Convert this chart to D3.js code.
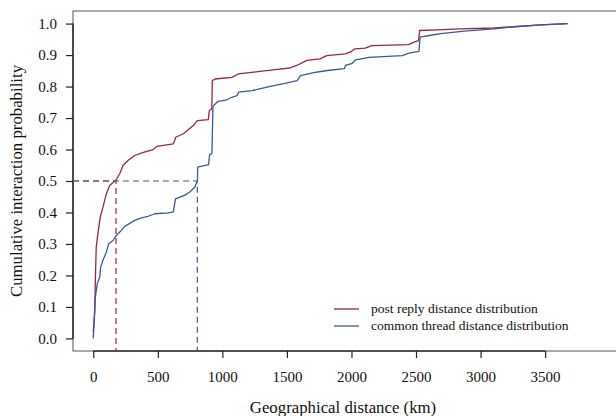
<!DOCTYPE html>
<html>
<head>
<meta charset="utf-8">
<script src="https://cdn.jsdelivr.net/npm/d3@7"></script>
<style>
body{margin:0;background:#fff;}
text{font-family:"Liberation Serif","Times New Roman",serif;fill:#111;}
</style>
</head>
<body>
<svg id="chart" width="616" height="416"></svg>
<script>
//ECDF of distances (km, cumulative probability)
var replyKm   = [0, 11, 16, 23, 36, 54, 75, 101, 127, 178, 205, 230, 269, 321, 388, 465, 492, 620, 639, 698, 775, 806, 891, 899, 918, 922, 943, 1073, 1124, 1292, 1408, 1524, 1576, 1654, 1757, 1809, 1951, 1990, 2028, 2106, 2158, 2442, 2494, 2520, 2528, 2662, 2843, 3102, 3257, 3465, 3672];
var replyProb = [0.02, 0.08, 0.184, 0.29, 0.333, 0.385, 0.417, 0.459, 0.486, 0.504, 0.523, 0.549, 0.565, 0.581, 0.591, 0.6, 0.61, 0.618, 0.639, 0.65, 0.676, 0.692, 0.695, 0.724, 0.729, 0.819, 0.824, 0.829, 0.84, 0.848, 0.854, 0.859, 0.867, 0.883, 0.888, 0.898, 0.904, 0.909, 0.92, 0.922, 0.93, 0.933, 0.943, 0.946, 0.978, 0.98, 0.983, 0.986, 0.99, 0.996, 1.0];
var threadKm   = [0, 16, 31, 50, 57, 75, 101, 120, 153, 178, 217, 244, 321, 373, 425, 477, 580, 621, 626, 637, 710, 748, 787, 807, 809, 893, 901, 919, 927, 958, 970, 1035, 1074, 1113, 1126, 1230, 1346, 1475, 1579, 1605, 1708, 1812, 1946, 1954, 2006, 2032, 2135, 2394, 2446, 2523, 2531, 2614, 2692, 2873, 3106, 3261, 3468, 3675];
var threadProb = [0, 0.131, 0.174, 0.195, 0.226, 0.248, 0.274, 0.301, 0.311, 0.327, 0.343, 0.356, 0.375, 0.383, 0.388, 0.396, 0.399, 0.402, 0.417, 0.443, 0.455, 0.465, 0.481, 0.502, 0.544, 0.552, 0.584, 0.587, 0.737, 0.75, 0.753, 0.758, 0.766, 0.771, 0.782, 0.787, 0.798, 0.809, 0.819, 0.835, 0.844, 0.851, 0.857, 0.867, 0.874, 0.885, 0.893, 0.898, 0.906, 0.912, 0.957, 0.963, 0.968, 0.976, 0.983, 0.99, 0.996, 1.0];
//medians (where each curve crosses 0.5)
var replyMedian = 176;
var threadMedian = 806;
var xTicks = [0, 500, 1000, 1500, 2000, 2500, 3000, 3500];
var yTicks = [0, 0.1, 0.2, 0.3, 0.4, 0.5, 0.6, 0.7, 0.8, 0.9, 1.0];
var seriesNames = ["post reply distance distribution", "common thread distance distribution"];

var cfg = {
    left: 73,
    right: 620,
    top: 11,
    bottom: 351,
    red: "#982645",
    blue: "#3b5998",
    tickFont: "15px",
    titleFont: "16.8px",
    legendFont: "13.5px"
};

var svg = d3.select("#chart");

//R style 4% padding on each side
var x = d3.scaleLinear().domain([-157, 4080]).range([cfg.left, cfg.right]);
var y = d3.scaleLinear().domain([-0.04, 1.04]).range([cfg.bottom, cfg.top]);

//box (right side runs off the page)
svg.append("rect")
    .attr("x", cfg.left)
    .attr("y", cfg.top)
    .attr("width", cfg.right - cfg.left)
    .attr("height", cfg.bottom - cfg.top)
    .style("fill", "none")
    .style("stroke", "#555")
    .style("stroke-width", "1px");

//axes
var xAxis = svg.append("g")
    .attr("transform", "translate(0," + cfg.bottom + ")")
    .call(d3.axisBottom(x).tickValues(xTicks).tickSize(7).tickPadding(13).tickFormat(d3.format("d")));
var yAxis = svg.append("g")
    .attr("transform", "translate(" + cfg.left + ",0)")
    .call(d3.axisLeft(y).tickValues(yTicks).tickSize(7).tickPadding(9).tickFormat(d3.format(".1f")));
[xAxis, yAxis].forEach(function(a){
    a.select(".domain").style("stroke", "#333").style("stroke-width", "1.6px");
    a.selectAll(".tick line").style("stroke", "#222").style("stroke-width", "1.2px");
    a.selectAll(".tick text")
        .style("font-family", "'Liberation Serif', serif")
        .style("font-size", cfg.tickFont)
        .attr("fill", "#111");
});
//r draws the axis line only between the outer ticks
xAxis.select(".domain").attr("d", "M" + x(xTicks[0]) + ",0H" + x(xTicks[xTicks.length-1]));
yAxis.select(".domain").attr("d", "M0," + y(yTicks[0]) + "V" + y(yTicks[yTicks.length-1]));

//axis titles
svg.append("text")
    .attr("x", 343)
    .attr("y", 413)
    .attr("text-anchor", "middle")
    .style("font-size", cfg.titleFont)
    .text("Geographical distance (km)");
svg.append("text")
    .attr("transform", "translate(22," + ((cfg.top + cfg.bottom)/2) + ") rotate(-90)")
    .attr("text-anchor", "middle")
    .style("font-size", cfg.titleFont)
    .text("Cumulative interaction probability");

//median guides
var guides = [[replyMedian, cfg.red], [threadMedian, cfg.blue]];
guides.forEach(function(g){
    svg.append("path")
        .attr("d", "M" + cfg.left + "," + y(0.5) + "H" + x(g[0]) + "V" + cfg.bottom)
        .style("fill", "none")
        .style("stroke", g[1])
        .style("stroke-width", "1.2px")
        .style("stroke-dasharray", "6,4");
});

//curves
var line = d3.line()
    .x(function(d){return x(d[0]);})
    .y(function(d){return y(d[1]);});
var curves = [
    [d3.zip(replyKm, replyProb), cfg.red],
    [d3.zip(threadKm, threadProb), cfg.blue]
];
curves.forEach(function(c){
    svg.append("path")
        .datum(c[0])
        .attr("d", line)
        .style("fill", "none")
        .style("stroke", c[1])
        .style("stroke-width", "1.3px")
        .style("stroke-linejoin", "round");
});

//legend
var legend = svg.selectAll(".legend")
    .data(seriesNames)
    .enter()
    .append("g")
    .attr("class", "legend")
    .attr("transform", function(d, i){return "translate(334," + (309 + i*17) + ")";});
legend.append("line")
    .attr("x1", 0)
    .attr("x2", 25)
    .style("stroke", function(d, i){return i == 0 ? cfg.red : cfg.blue;})
    .style("stroke-width", "1.3px");
legend.append("text")
    .attr("x", 37)
    .attr("dy", "0.32em")
    .style("font-size", cfg.legendFont)
    .text(function(d){return d;});
</script>
</body>
</html>
